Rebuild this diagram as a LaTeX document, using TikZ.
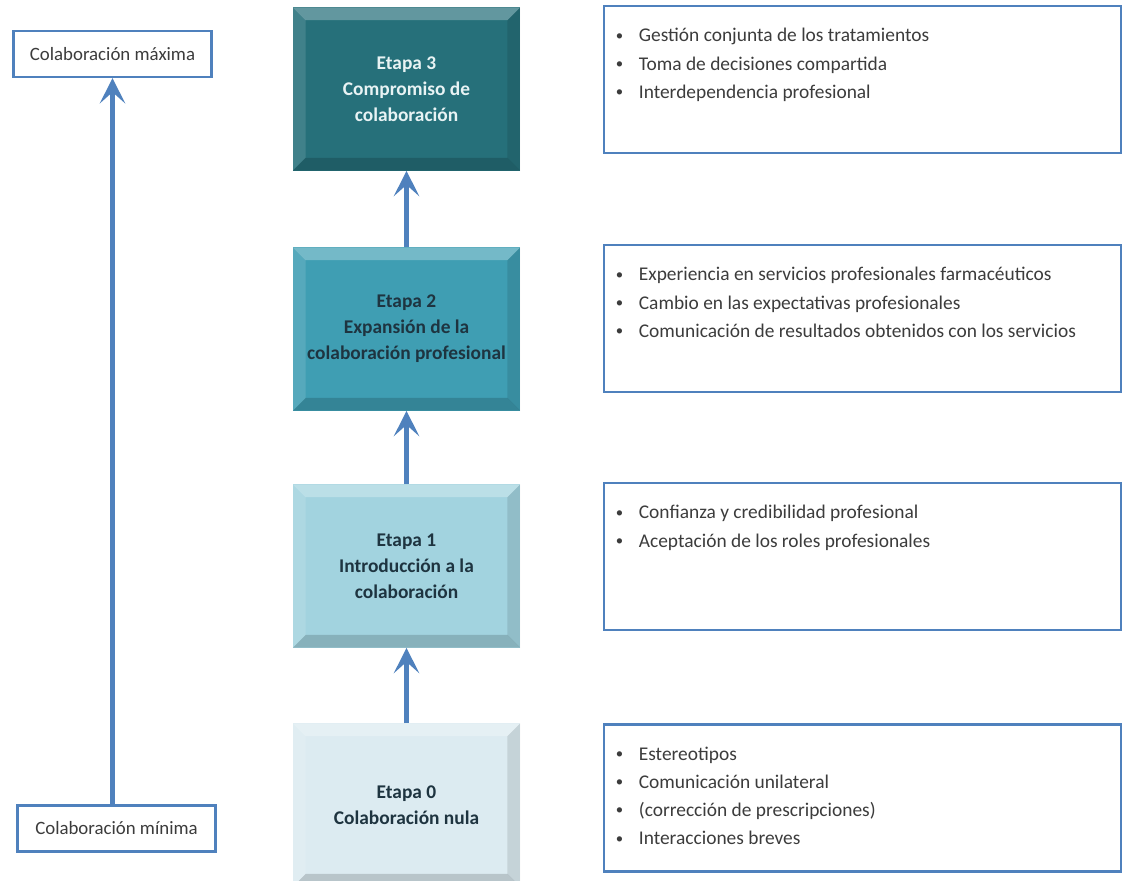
\documentclass[tikz,border=0pt]{standalone}
\usepackage{fontspec}
\setmainfont{Carlito}
\usetikzlibrary{arrows.meta,positioning}

\definecolor{stagezero}{HTML}{DCEBF1}
\definecolor{stageone}{HTML}{A2D3DF}
\definecolor{stagetwo}{HTML}{3F9EB3}
\definecolor{stagethree}{HTML}{26707A}
\definecolor{darkink}{HTML}{1E3440}
\definecolor{lightink}{HTML}{E8F3F4}
\definecolor{linkblue}{HTML}{4F81BD}
\definecolor{textgray}{HTML}{3C3C3C}

\newcommand{\itm}{\makebox[16.4pt][l]{\raisebox{1.2pt}{\fontsize{10.5}{10}\selectfont\textbullet}}}

\tikzset{
  stagebox/.style={minimum width=5.675cm, minimum height=4.075cm, align=center,
    font=\bfseries\fontsize{13.8}{18.5}\selectfont,
    path picture={
      \path (path picture bounding box.south west) coordinate (bsw)
            (path picture bounding box.north east) coordinate (bne);
      % bevel: light top and left, dark bottom and right
      \fill[white,opacity=.28] (bsw |- bne) -- (bne) -- ([shift={(-9pt,-9pt)}]bne)
        -- ([shift={(9pt,-9pt)}]bsw |- bne) -- cycle;
      \fill[white,opacity=.12] (bsw) -- (bsw |- bne) -- ([shift={(9pt,-9pt)}]bsw |- bne)
        -- ([shift={(9pt,9pt)}]bsw) -- cycle;
      \fill[black,opacity=.10] (bne) -- (bne |- bsw) -- ([shift={(-9pt,9pt)}]bne |- bsw)
        -- ([shift={(-9pt,-9pt)}]bne) -- cycle;
      \fill[black,opacity=.16] (bsw) -- (bne |- bsw) -- ([shift={(-9pt,9pt)}]bne |- bsw)
        -- ([shift={(9pt,9pt)}]bsw) -- cycle;
    }},
  notebox/.style={draw=linkblue, line width=1.5pt, fill=white,
    minimum width=12.925cm, minimum height=3.675cm},
  notetext/.style={anchor=north west, inner sep=0pt, align=left, text=textgray,
    font=\fontsize{13.8}{20}\selectfont},
  levelbox/.style={draw=linkblue, line width=1.5pt, fill=white, text=textgray,
    minimum width=4.95cm, minimum height=1.15cm, font=\fontsize{13.4}{15}\selectfont},
  flow/.style={draw=linkblue, line width=3pt,
    -{Stealth[length=18pt,width=18pt,inset=8pt]}},
}

\begin{document}
\begin{tikzpicture}[x=0.025cm, y=-0.025cm]
\useasboundingbox (0,0) rectangle (1122,880);

% stages
\node[stagebox, fill=stagethree, text=lightink] (e3) at (406.5,89)
  {Etapa 3\\Compromiso de\\colaboración};
\node[stagebox, fill=stagetwo, text=darkink] (e2) at (406.5,329)
  {Etapa 2\\Expansión de la\\colaboración profesional};
\node[stagebox, fill=stageone, text=darkink] (e1) at (406.5,566)
  {Etapa 1\\Introducción a la\\colaboración};
\node[stagebox, fill=stagezero, text=darkink] (e0) at (406.5,805)
  {Etapa 0\\Colaboración nula};

\draw[flow] (e0) -- (e1);
\draw[flow] (e1) -- (e2);
\draw[flow] (e2) -- (e3);

% notes on the right
\node[notebox] (r3) at (862.5,79.5) {};
\node[notebox] (r2) at (862.5,318.5) {};
\node[notebox] (r1) at (862.5,556.5) {};
\node[notebox] (r0) at (862.5,798) {};

\node[notetext] (t3) at ([shift={(9pt,-16.5pt)}]r3.north west)
  {\itm Gestión conjunta de los tratamientos\\
   \itm Toma de decisiones compartida\\
   \itm Interdependencia profesional};
\node[notetext] (t2) at ([shift={(9pt,-16.5pt)}]r2.north west)
  {\itm Experiencia en servicios profesionales farmacéuticos\\
   \itm Cambio en las expectativas profesionales\\
   \itm Comunicación de resultados obtenidos con los servicios};
\node[notetext] (t1) at ([shift={(9pt,-16.5pt)}]r1.north west)
  {\itm Confianza y credibilidad profesional\\
   \itm Aceptación de los roles profesionales};
\node[notetext] (t0) at ([shift={(9pt,-16.5pt)}]r0.north west)
  {\itm Estereotipos\\
   \itm Comunicación unilateral\\
   \itm (corrección de prescripciones)\\
   \itm Interacciones breves};

% scale on the left
\node[levelbox] (maxb) at (112.5,54) {Colaboración máxima};
\node[levelbox] (minb) at (116.5,828.5) {Colaboración mínima};
\draw[flow] (maxb.south |- minb.north) -- (maxb.south);

\end{tikzpicture}
\end{document}
